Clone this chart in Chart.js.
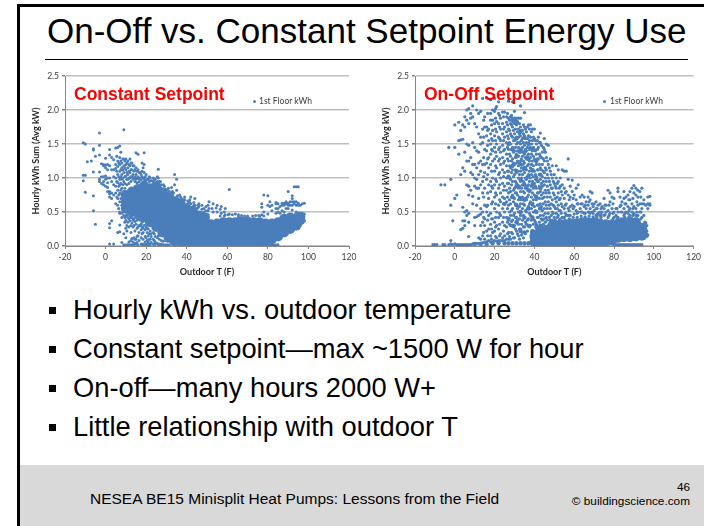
<!DOCTYPE html>
<html>
<head>
<meta charset="utf-8">
<script src="https://cdn.jsdelivr.net/npm/chart.js@4"></script>
<style>
  html, body { margin: 0; padding: 0; background: #fff; }
  body { position: relative; width: 704px; height: 526px; overflow: hidden; font-family: "Liberation Sans", Arial, sans-serif; color: #000; }
  .abs { position: absolute; white-space: nowrap; }
  canvas { position: absolute; }
  #titre { left: 47px; top: 12px; font-size: 35px; line-height: 38px; }
  .puce { position: absolute; left: 49px; width: 7px; height: 7px; background: #000; }
  .ligne { left: 73px; font-size: 27.3px; line-height: 30px; }
  .rouge { color: #f00; font-weight: bold; font-size: 17.5px; line-height: 20px; }
  .legende { font-family: Lato, sans-serif; font-size: 8.5px; line-height: 10px; color: #404040; }
  .marque { position: absolute; width: 3px; height: 3px; border-radius: 50%; background: #4a7ebb; }
</style>
</head>
<body>
<div class="abs" style="left:17px;top:4px;width:687px;height:3px;background:#000"></div>
<div class="abs" style="left:17px;top:4px;width:3px;height:522px;background:#000"></div>
<div class="abs" id="titre">On-Off vs. Constant Setpoint Energy Use</div>
<div class="abs" style="left:45px;top:59px;width:643px;height:1px;background:#000"></div>

<canvas id="graphique-constant" style="left:20px;top:66px" width="345" height="215"></canvas>
<canvas id="graphique-onoff" style="left:370px;top:66px" width="334" height="215"></canvas>

<div class="abs rouge" style="left:74px;top:84px">Constant Setpoint</div>
<div class="marque" style="left:253px;top:100px"></div>
<div class="abs legende" style="left:259px;top:96px">1st Floor kWh</div>
<div class="abs rouge" style="left:424px;top:84px">On-Off Setpoint</div>
<div class="marque" style="left:603px;top:100px"></div>
<div class="abs legende" style="left:610px;top:96px">1st Floor kWh</div>

<div class="puce" style="top:307px"></div>
<div class="abs ligne" style="top:295px">Hourly kWh vs. outdoor temperature</div>
<div class="puce" style="top:346px"></div>
<div class="abs ligne" style="top:334px">Constant setpoint—max ~1500 W for hour</div>
<div class="puce" style="top:385px"></div>
<div class="abs ligne" style="top:373px">On-off—many hours 2000 W+</div>
<div class="puce" style="top:424px"></div>
<div class="abs ligne" style="top:412px">Little relationship with outdoor T</div>

<div class="abs" style="left:20px;top:465px;width:684px;height:61px;background:#d9d9d9"></div>
<div class="abs" style="left:90px;top:490px;font-size:15.5px;line-height:18px">NESEA BE15 Minisplit Heat Pumps: Lessons from the Field</div>
<div class="abs" style="right:14px;top:480px;font-size:11.8px;line-height:15px">46</div>
<div class="abs" style="right:14px;top:494px;font-size:11.8px;line-height:15px">© buildingscience.com</div>

<script>
// axes
const xTicks = [-20, 0, 20, 40, 60, 80, 100, 120];
const yTicks = [0, 0.5, 1, 1.5, 2, 2.5];

// Constant setpoint: nappe dense (lue par colonne de température)
const constantCoreTemps = [10, 13, 16, 19, 22, 25, 28, 31, 34, 37, 40, 43, 46, 49, 52, 55, 58, 61, 64, 67, 70, 73, 76, 79, 82, 85, 88, 91, 94, 96];
const constantCoreKwh = [
  [.55, .65, .75], [.5, .6, .7, .8], [.48, .57, .66, .75, .84], [.42, .5, .6, .7, .8, .88], [.35, .45, .55, .65, .75, .85],
  [.28, .38, .48, .58, .68, .78, .88], [.2, .3, .4, .5, .6, .7, .78], [.12, .22, .32, .42, .52, .62, .7], [.07, .17, .27, .37, .47, .57, .65], [.06, .15, .25, .35, .45, .55, .62],
  [.06, .15, .25, .35, .45, .55], [.06, .15, .25, .35, .44, .52], [.06, .15, .25, .35, .45], [.06, .15, .25, .35, .42], [.06, .15, .25, .32],
  [.06, .15, .25, .33], [.06, .15, .25, .35], [.06, .15, .25, .35], [.06, .15, .25, .35], [.06, .15, .25, .36],
  [.06, .15, .25, .36], [.06, .15, .25, .35], [.06, .15, .25, .35], [.08, .17, .26, .33], [.1, .18, .27, .33],
  [.14, .22, .3, .35], [.2, .27, .35, .4], [.25, .32, .38, .42], [.3, .36, .41], [.38, .43]
];

// Constant setpoint: points isolés
const constantTemps = [-11, -10, -9, -7, -6, -5, -3, -2, -1, 0, 1, 2, 3, 4, 5, 6, 7, 8, 9, 10, 11, 12, 13, 14, 15, 16, 17, 18, 19, 20, 21, 22, 24, 26, 27, 29, 31, 33, 34, 35, 37, 39, 42, 44, 46, 51, 53, 55, 57, 59, 61, 64, 67, 70, 74, 76, 77, 78, 79, 80, 81, 82, 83, 84, 85, 86, 87, 88, 89, 90, 91, 92, 93, 94, 95, 96, 97, 98];
const constantKwh = [
  [1.52, 1.04, .96], [1.5, 1.04, .79], [1.24], [1.25], [1.43, 1.41, 1.09, .74, .52], [1.32, .32],
  [1.66, 1.48, 1.34, 1.09, .98, .95], [1.21, 1.02, .92], [1.2, 1.18, 1.02, .95, .9], [1.29, 1.19, 1.15, 1.03, .98, .88], [1.2, 1.12, 1, .93, .86, .8],
  [1.42, 1.34, 1.18, 1, .8, .77, .72, .33, .27, .03], [1.3, 1.12, .95, .78, .7, .37], [1.27, 1.12, 1.02, .9, .75, .03], [1.44, 1.2, 1.14, 1, .88, .78, .62],
  [1.45, 1.25, 1.17, 1.05, .93, .82, .7, .6, .2], [1.47, 1.3, 1.2, 1.1, .98, .9, .78, .65, .5, .48, .31, .21], [1.22, 1.15, 1.05, .98, .85, .75, .6, .48, .42, .05],
  [1.71, 1.28, 1.18, 1.08, .95, .8, .52, .45, .18, .02], [1.28, 1.2, 1.12, 1.03, .5, .44, .38, .26, .12, .02], [1.25, 1.15, 1.05, .98, .42, .35, .02],
  [1.28, 1.18, 1.08, 1, .45, .37, .02], [1.22, 1.12, 1.02, .42, .34, .11, .02], [1.18, 1.1, 1, .4, .3, .12, .02], [1.37, 1.15, 1.05, .98, .42, .32, .1, .03],
  [1.35, 1.12, 1.02, .4, .28, .15, .02], [1.08, 1, .38, .3], [1.22, 1.1, 1.02, .35, .28, .18, .02], [1.37, 1.2, 1.08, .98, .3, .02], [1.05, .97, .32, .28, .12, .02],
  [.98, .25, .15, .06, .02], [1, .22, .1, .02], [.98, .18, .08, .02], [1.13, 1, .15, .02], [.95, .02], [.88, .82], [.85], [.8, .75], [1.05, .9], [.98, .82, .72],
  [.72], [.72, .68], [.72, .62], [.7, .6], [.62, .58], [.65, .55], [.62, .5], [.6, .5], [.58, .48], [.55, .46], [.83, .47], [.47], [.45], [.44], [.45], [.44, .02],
  [.62, .57, .46, .02], [.75, .5, .44, .02], [.02], [.74, .6, .47, .02], [.65, .58, .02], [.6, .52, .02], [.02], [.64, .62, .55, .48, .02], [.62, .55, .5, .02],
  [.58, .48], [.63, .6, .52], [.63, .6, .5], [.65, .62, .55], [.8, .63, .6, .55], [.65, .6], [.74, .7, .65, .6, .53], [.87, .65, .62], [.87, .65, .6, .5],
  [.87, .63, .6, .48], [.6, .48, .42, .3], [.62, .48, .45], [.63, .47, .37]
];

// Constant setpoint: bords rugueux de la nappe
const constantEdgeTemps = [5.5, 6.5, 7.5, 8.5, 9.5, 10.5, 11.5, 12.5, 13.5, 14.5, 15.5, 16.5, 17.5, 18.5, 19.5, 20.5, 21.5, 22.5, 23.5, 24.5, 25.5, 26.5, 27.5, 28.5, 29.5, 30.5, 31.5, 32.5, 33.5, 35.5, 36.5, 37.5, 38.5, 40.5, 41.5, 43.5, 45.5, 47.5, 48.5, 49.5, 50.5, 52.5, 54.5, 56.5, 58.5, 60.5, 62.5, 65.5, 68.5, 72.5, 75.5];
const constantEdgeKwh = [
  [1.32, 1.1, .95, .72], [1.22, 1.02, .88, .75, .55], [1.38, 1.25, 1.12, 1.02, .92, .82, .7], [1.28, 1.12, 1, .9, .78, .65, .55], [1.25, 1.15, 1.02, .92, .85, .42, .35],
  [1.22, 1.08, .98, .9, .46, .3, .22], [1.2, 1.1, 1, .92, .4, .28, .06], [1.22, 1.12, 1.02, .95, .42, .3, .2, .08], [1.18, 1.05, .98, .38, .28, .06], [1.12, 1.02, .95, .36, .22, .1, .04],
  [1.1, 1, .93, .38, .26, .14, .05], [1.08, .98, .94, .3, .2, .08], [1.05, .97, .32, .24, .12, .03], [1.15, 1, .94, .26, .2, .1, .03], [1.02, .95, .24, .14, .06, .02],
  [.98, .26, .2, .08, .03], [1.02, .95, .18, .1, .03], [.96, .18, .14, .05], [1, .95, .2, .1, .03], [.98, .14, .06, .03], [1.02, .95, .12, .04], [.95, .1, .03],
  [.9, .85, .08, .03], [.9, .84, .07, .02], [.84, .02], [.82, .78, .02], [.8, .76, .02], [.86, .78, .72], [.78, .72], [.74, .7], [.75, .68], [.7, .66], [.68, .64],
  [.66, .62], [.68, .64], [.64, .6], [.6, .56], [.6, .54], [.55, .5], [.58, .52], [.6, .52, .46], [.55], [.56], [.54, .44], [.5, .44], [.46], [.46], [.46, .43], [.44], [.44], [.45]
];

// On-off setpoint: nappe dense
const onoffCoreTemps = [40, 43, 46, 49, 52, 55, 58, 61, 64, 67, 70, 73, 76, 79, 82, 85, 88, 91, 94];
const onoffCoreKwh = [
  [.06, .14], [.06, .15, .24], [.06, .15, .24], [.06, .15, .24, .3], [.06, .15, .24, .3], [.06, .15, .24, .32], [.06, .15, .24, .33], [.06, .15, .24, .33],
  [.06, .15, .24, .35], [.06, .15, .24, .35], [.06, .15, .24, .35], [.06, .15, .24, .33], [.06, .15, .24, .32], [.08, .16, .24, .32], [.12, .18, .25, .33],
  [.13, .2, .28, .35], [.13, .2, .28, .36], [.14, .2, .28, .35], [.15, .2, .27]
];

// On-off setpoint: zone serrée vers 30 F et bande du bas
const onoffDenseTemps = [10, 13, 16, 19, 22, 25, 27, 29, 31, 33, 35, 37, 39, 41, 43];
const onoffDenseKwh = [
  [.03], [.03], [.03], [.04], [.04], [.04, .62], [.04, 1.5, 1.02, .4], [.04, 1.85, 1.42, 1.18, .72, .3], [.04, 1.82, 1.58, 1.32, 1.1, .88, .6, .35],
  [.04, 1.68, 1.42, 1.2, .98, .7, .5, .22], [.04, 1.6, 1.38, 1.15, .9, .68, .42, .2], [.04, 1.5, 1.28, 1.02, .82, .55, .3], [.04, 1.42, 1.12, .9, .62, .42, .22],
  [.04, 1.25, .98, .72, .5, .28], [.04, 1.05, .85, .55, .3]
];

// On-off setpoint: points isolés
const onoffTemps = [-11, -10, -9, -7, -6, -5, -3, -2, -1, 0, 1, 2, 3, 4, 5, 6, 7, 8, 9, 10, 11, 12, 13, 14, 15, 16, 17, 18, 19, 20, 21, 22, 23, 24, 25, 26, 27, 28, 29, 30, 31, 32, 33, 34, 35, 36, 37, 38, 39, 40, 41, 42, 43, 44, 45, 46, 47, 48, 49, 50, 51, 52, 53, 54, 55, 56, 57, 58, 59, 60, 61, 62, 63, 64, 65, 66, 67, 68, 69, 70, 71, 72, 73, 74, 75, 76, 77, 78, 79, 80, 81, 82, 83, 84, 85, 86, 87, 88, 89, 90, 91, 92, 93, 94, 95, 96, 97, 98];
const onoffKwh = [
  [.02], [.02], [.02], [.9], [.02], [.9, .02], [1.45, .02], [.98, .6, .08, .03], [.37, .02], [1.78, 1.45, .7, .03], [.75, .02], [1.82, 1.55, 1.35, .02],
  [1.7, 1.56, 1.05, .24, .02], [1.78, 1.57, 1.15, .57, .37, .26, .02], [1.9, 1.75, 1.38, 1.1, .5, .37, .3, .02], [2, 1.85, 1.5, 1.25, .9, .52, .45, .02],
  [2.02, 1.8, 1.48, 1.25, .88, .75, .48, .35, .14, .02], [1.95, 1.88, 1.3, 1.08, .82, .02], [2.06, 1.9, 1.52, 1.2, 1.05, .73, .62, .03], [1.8, 1.45, 1.2, 1, .88, .42, .3, .03],
  [2, 1.75, 1.4, 1.15, .98, .85, .6, .43, .04], [1.95, 1.65, 1.38, 1.22, 1.05, .85, .7, .45, .12, .04], [1.98, 1.6, 1.5, 1.25, 1.1, .9, .55, .47, .3, .1, .04],
  [2.17, 1.72, 1.52, 1.2, .95, .78, .5, .35, .15, .05], [1.9, 1.75, 1.42, 1.2, 1.08, .85, .6, .4, .3, .1, .05], [2.18, 1.75, 1.62, 1.4, 1.22, .98, .58, .5, .22, .06],
  [1.72, 1.55, 1.3, 1.15, .9, .7, .45, .25, .08], [2.15, 1.95, 1.85, 1.65, 1.5, 1.35, 1.2, .95, .8, .48, .32, .15, .06], [2, 1.85, 1.7, 1.55, 1.4, 1.25, 1, .85, .65, .4, .2, .06],
  [2.17, 1.98, 1.8, 1.62, 1.45, 1.28, 1.1, .9, .72, .55, .35, .22, .08], [2.05, 1.83, 1.68, 1.5, 1.32, 1.15, .95, .75, .5, .3, .12, .07], [2.12, 1.95, 1.8, 1.6, 1.42, 1.25, 1.05, .85, .6, .42, .25, .08],
  [1.88, 1.72, 1.55, 1.38, 1.2, 1, .78, .65, .45, .18, .08], [1.97, 1.8, 1.65, 1.48, 1.3, 1.12, .92, .72, .55, .35, .12, .08], [1.97, 1.75, 1.6, 1.42, 1.25, 1.08, .88, .7, .5, .3, .15, .08],
  [1.9, 1.82, 1.68, 1.52, 1.35, 1.18, 1, .82, .65, .42, .28, .1], [2.13, 1.88, 1.72, 1.58, 1.42, 1.25, 1.1, .92, .78, .6, .38, .2, .1], [1.9, 1.8, 1.65, 1.5, 1.32, 1.15, .98, .8, .62, .45, .3, .1],
  [2.12, 1.88, 1.75, 1.6, 1.45, 1.28, 1.12, .95, .75, .55, .38, .18], [1.98, 1.88, 1.8, 1.65, 1.55, 1.4, 1.2, 1.05, .85, .7, .48, .3, .12], [1.88, 1.78, 1.6, 1.5, 1.35, 1.22, 1.08, .92, .78, .6, .42, .22],
  [1.88, 1.72, 1.6, 1.45, 1.32, 1.18, 1, .85, .68, .5, .32, .15], [2.06, 1.88, 1.75, 1.62, 1.5, 1.38, 1.25, 1.1, .95, .8, .62, .45, .25], [1.7, 1.58, 1.45, 1.32, 1.2, 1.05, .9, .72, .55, .38, .2],
  [1.96, 1.75, 1.62, 1.48, 1.35, 1.22, 1.08, .92, .78, .6, .42, .28], [1.68, 1.52, 1.4, 1.28, 1.12, .98, .85, .68, .5, .32], [1.78, 1.62, 1.5, 1.35, 1.2, 1.05, .9, .75, .58, .4],
  [1.78, 1.6, 1.45, 1.3, 1.15, 1, .82, .65, .45, .3], [1.72, 1.55, 1.4, 1.25, 1.1, .95, .78, .6, .42], [1.72, 1.58, 1.42, 1.28, 1.1, .92, .75, .58, .38], [1.5, 1.35, 1.2, 1.02, .85, .68, .5, .32],
  [1.6, 1.45, 1.28, 1.12, .95, .78, .6, .42], [1.66, 1.52, 1.32, 1.15, .98, .8, .62, .45], [1.38, 1.2, 1.02, .88, .7, .52, .38], [1.58, 1.42, 1.25, 1.08, .9, .72, .55, .4],
  [1.5, 1.3, 1.12, .95, .78, .6, .42], [1.48, 1.2, 1, .82, .65, .48], [1.28, 1.1, .9, .72, .55, .38], [1.18, 1, .85, .68, .5, .38], [1.05, .92, .75, .58, .42], [1.18, 1, .85, .65, .48],
  [1.12, .95, .78, .6, .45], [1, .88, .7, .52, .4], [1.12, .9, .75, .58, .42], [1.1, .85, .7, .55, .42], [1.1, .8, .62, .45], [1.28, .98, .75, .55, .45], [.88, .72, .58, .45], [.97, .8, .6],
  [.75, .58, .47], [.85, .68, .52], [.9, .62, .5], [.72, .55], [.75, .62, .5], [.72, .58, .48], [.65, .55], [.72, .6, .5], [.8, .68, .55, .48], [.78, .62, .5], [.62, .52], [.65, .55, .45],
  [.6, .48], [.62, .5, .45], [.58, .5], [.7, .55, .45], [.6, .5], [.82, .52, .42], [.78, .65, .48], [.72, .55], [.7, .5, .42, .02], [.55, .45, .02], [.85, .8, .5, .42, .02], [.72, .58, .02],
  [.65, .5, .02], [.8, .7, .55, .45, .02], [.72, .62, .5, .02], [.75, .58, .48, .02], [.8, .68, .55, .45, .02], [.85, .62, .5, .02], [.89, .78, .58, .48, .02], [.85, .75, .55, .45, .02],
  [.82, .72, .6, .45, .02], [.8, .62, .5, .02], [.85, .62, .55, .42, .02], [.68, .62, .45, .2, .15], [.6, .34, .25, .18], [.72, .62, .55, .16], [.73, .62, .6]
];

// On-off setpoint: colonnes intermédiaires du nuage
const onoffFillTemps = [14.5, 16.5, 18.5, 20.5, 22.5, 24.5, 26.5, 27.5, 28.5, 29.5, 30.5, 31.5, 32.5, 33.5, 34.5, 35.5, 36.5, 37.5, 38.5, 39.5, 40.5, 41.5, 42.5, 43.5, 44.5, 45.5, 46.5, 47.5, 48.5, 49.5, 50.5, 51.5, 52.5, 53.5, 55.5, 57.5, 59.5, 61.5, 63.5, 65.5, 67.5, 69.5, 71.5, 73.5, 75.5, 77.5, 79.5, 81.5, 83.5, 85.5, 87.5, 89.5, 91.5, 93.5, 95.5, 96.5];
const onoffFillKwh = [
  [1.85, 1.6, 1.3, 1.02, .72, .42, .2], [1.95, 1.7, 1.48, 1.28, 1.05, .78, .6, .38, .15], [1.78, 1.58, 1.42, 1.1, .88, .62, .4, .25, .1], [2.02, 1.88, 1.72, 1.55, 1.38, 1.18, .98, .78, .62, .42, .28, .14],
  [1.92, 1.75, 1.58, 1.45, 1.28, 1.08, .9, .68, .48, .32, .15], [1.9, 1.72, 1.55, 1.4, 1.22, 1.02, .82, .62, .42, .22], [1.95, 1.78, 1.62, 1.45, 1.28, 1.1, .92, .72, .55, .35, .18],
  [1.85, 1.7, 1.52, 1.35, 1.18, 1, .85, .68, .5, .32, .14], [1.92, 1.78, 1.62, 1.42, 1.25, 1.08, .9, .72, .52, .36, .2], [1.82, 1.7, 1.55, 1.38, 1.22, 1.02, .82, .65, .45, .28, .12],
  [1.85, 1.72, 1.58, 1.45, 1.3, 1.12, .95, .78, .62, .42, .25], [1.83, 1.68, 1.52, 1.4, 1.25, 1.1, .9, .75, .55, .38, .18], [1.8, 1.65, 1.52, 1.38, 1.22, 1.05, .88, .72, .58, .4, .25, .1],
  [1.7, 1.55, 1.42, 1.28, 1.15, 1, .85, .68, .5, .32, .16], [1.78, 1.65, 1.52, 1.38, 1.25, 1.12, .95, .8, .62, .45, .28, .12], [1.72, 1.58, 1.42, 1.3, 1.15, 1, .85, .7, .52, .35, .18],
  [1.75, 1.58, 1.45, 1.32, 1.18, 1.02, .88, .72, .55, .38, .22], [1.72, 1.55, 1.42, 1.25, 1.1, .95, .8, .62, .48, .28], [1.68, 1.5, 1.35, 1.2, 1.05, .88, .72, .55, .38, .2],
  [1.6, 1.45, 1.32, 1.18, 1.02, .85, .68, .5, .32, .18], [1.55, 1.4, 1.25, 1.05, .88, .72, .52, .35, .22], [1.55, 1.42, 1.28, 1.12, .95, .78, .6, .42, .25], [1.52, 1.35, 1.2, 1.05, .88, .7, .55, .35],
  [1.48, 1.3, 1.12, .92, .75, .58, .4, .3], [1.45, 1.28, 1.1, .95, .78, .62, .45, .32], [1.38, 1.15, 1, .82, .65, .48, .35], [1.25, 1.05, .88, .72, .55, .38], [1.15, .95, .78, .6, .42, .32],
  [1.05, .85, .62, .45, .35], [.95, .78, .6, .48, .36], [.88, .7, .55, .38], [.92, .72, .55, .42, .34], [.85, .68, .52, .38], [.8, .62, .48, .36], [.78, .6, .48, .38], [.68, .52, .4], [.7, .55, .42],
  [.62, .48, .42], [.62, .5, .44], [.6, .48, .43], [.65, .5, .44], [.58, .48, .43], [.55, .46, .42], [.55, .46, .42], [.6, .46], [.6, .45], [.62, .48, .4], [.55, .42], [.6, .5, .4], [.62, .48, .42],
  [.68, .52, .43], [.7, .55, .45], [.65, .5, .44], [.72, .5, .4], [.35, .3, .28, .22, .12], [.3, .22, .18, .14]
];

const BLEU = '#4a7ebb';

// colonnes température -> liste de points {x, y}
const versPoints = (temps, kwh) => temps.flatMap((t, i) => kwh[i].map(v => ({ x: t, y: v })));

const serie = (points, rayon) => ({
    label: '1st Floor kWh',
    data: points,
    backgroundColor: BLEU,
    borderWidth: 0,
    pointRadius: rayon,
    pointHoverRadius: rayon
});

const tracer = (id, datasets, margeDroite) => {
    new Chart(document.getElementById(id), {
        type: 'scatter',
        data: { datasets },
        options: {
            responsive: false,
            animation: false,
            layout: { autoPadding: false, padding: { top: 10, right: margeDroite, left: 0, bottom: 0 } },
            plugins: { legend: { display: false }, tooltip: { enabled: false } },
            scales: {
                x: {
                    min: -20, max: 120,
                    afterBuildTicks: axe => { axe.ticks = xTicks.map(v => ({ value: v })); },
                    afterFit: axe => { axe.height = 35; },
                    grid: { drawOnChartArea: false, color: '#868686', tickLength: 3 },
                    border: { color: '#868686' },
                    ticks: { font: { family: 'Lato', size: 8.5 }, color: '#404040', maxRotation: 0, padding: 3 },
                    title: { display: true, text: 'Outdoor T (F)', font: { family: 'Lato', size: 9, weight: 700 }, color: '#262626', padding: { top: 0, bottom: 4 } }
                },
                y: {
                    min: 0, max: 2.5,
                    afterBuildTicks: axe => { axe.ticks = yTicks.map(v => ({ value: v })); },
                    afterFit: axe => { axe.width = 45; },
                    grid: { color: '#bfbfbf', lineWidth: 1.5, tickColor: '#868686', tickLength: 3 },
                    border: { color: '#868686' },
                    ticks: { font: { family: 'Lato', size: 8.5 }, color: '#404040', padding: 3, callback: v => v.toFixed(1) },
                    title: { display: true, text: 'Hourly kWh Sum (Avg kW)', font: { family: 'Lato', size: 9, weight: 700 }, color: '#262626', padding: { top: 11, bottom: 0 } }
                }
            }
        }
    });
};

tracer('graphique-constant', [
    serie(versPoints(constantTemps, constantKwh), 1.5),
    serie(versPoints(constantEdgeTemps, constantEdgeKwh), 1.5),
    serie(versPoints(constantCoreTemps, constantCoreKwh), 5)
], 16);

tracer('graphique-onoff', [
    serie(versPoints(onoffTemps, onoffKwh), 1.6),
    serie(versPoints(onoffFillTemps, onoffFillKwh), 1.6),
    serie(versPoints(onoffDenseTemps, onoffDenseKwh), 2.2),
    serie(versPoints(onoffCoreTemps, onoffCoreKwh), 5)
], 5);
</script>
</body>
</html>
